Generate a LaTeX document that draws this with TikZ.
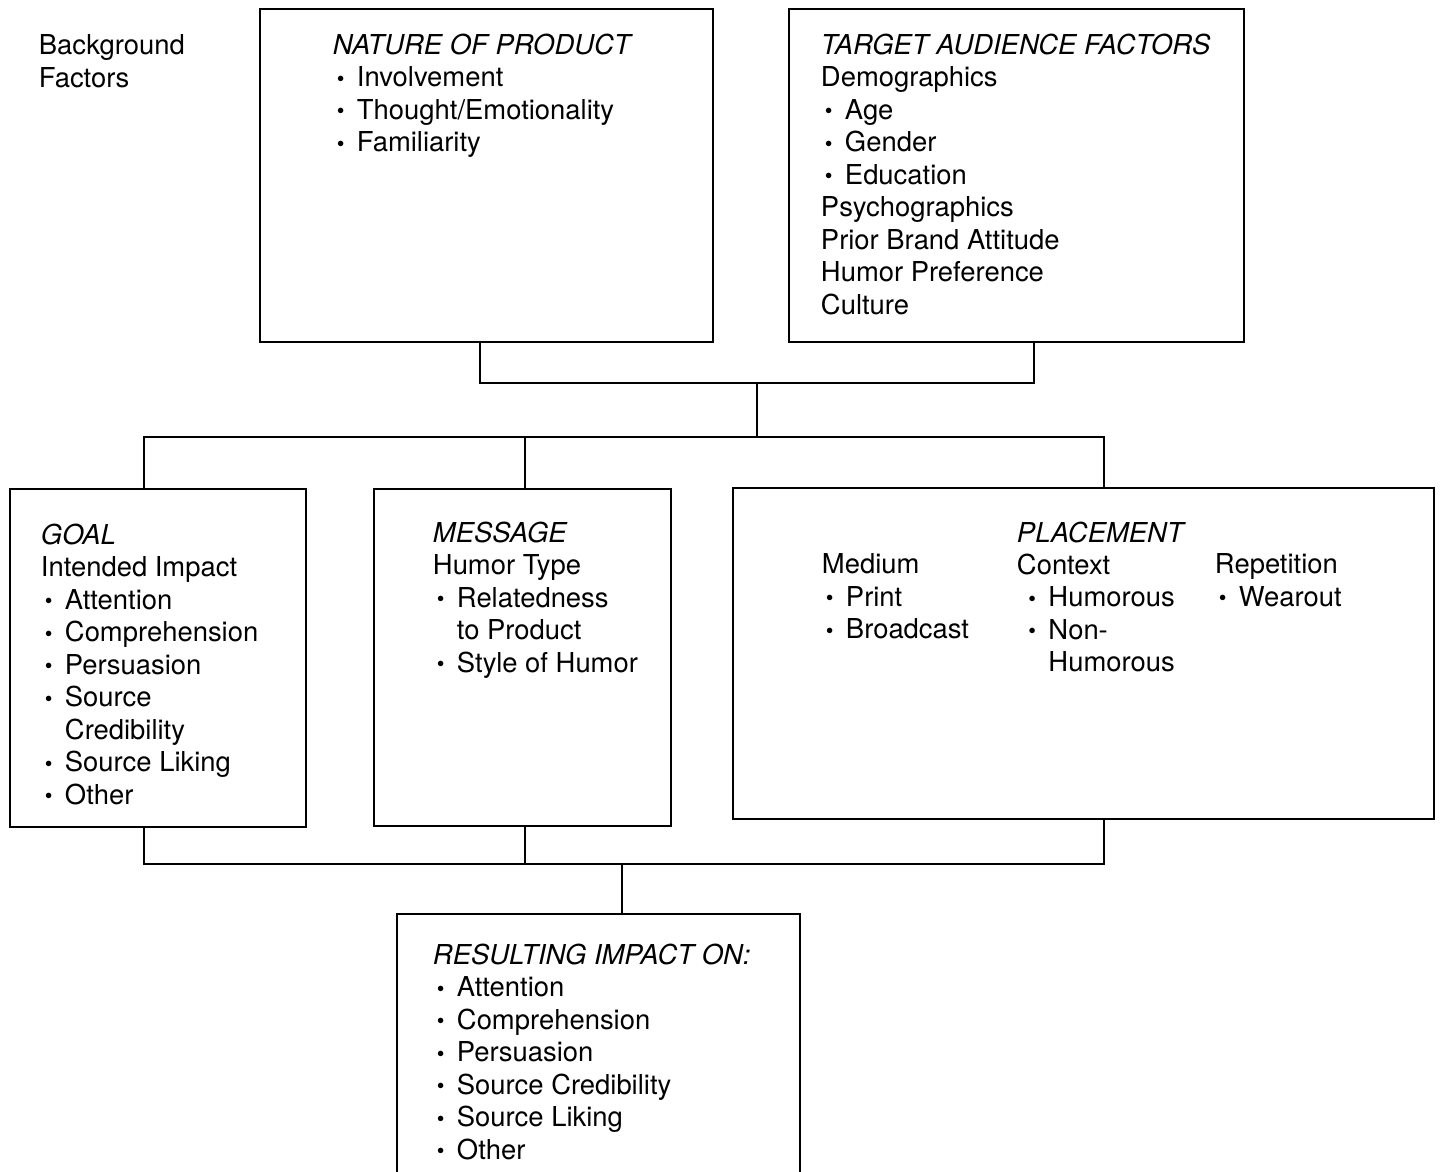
\documentclass[tikz,border=0pt]{standalone}
\usepackage{fontspec}
\setmainfont{TeX Gyre Heros}
\newcommand\itm{\hspace*{0.08cm}\makebox[0.40cm][l]{\raisebox{0.02em}{\scalebox{0.8}{\textbullet}}}}
\newcommand\ind{\hspace*{0.48cm}}
\begin{document}
\begin{tikzpicture}[x=0.02cm,y=-0.02cm,line width=1.1pt,
  box/.style={draw,inner sep=0pt,anchor=north west},
  txt/.style={anchor=north west,inner sep=0pt,align=left,
    font=\fontsize{15.6pt}{18.5pt}\selectfont}]
\clip (0,0) rectangle (1440,1171);

% boxes
\node[box,minimum width=9.06cm,minimum height=6.66cm] (nat) at (259,8) {};
\node[box,minimum width=9.10cm,minimum height=6.66cm] (tgt) at (788,8) {};
\node[box,minimum width=5.92cm,minimum height=6.76cm] (goal) at (9,488) {};
\node[box,minimum width=5.94cm,minimum height=6.74cm] (msg) at (373,488) {};
\node[box,minimum width=14.02cm,minimum height=6.62cm] (pla) at (732,487) {};
\node[box,minimum width=8.06cm,minimum height=5.60cm] (res) at (396,913) {};

% texts
\node[txt] (bg) at (38,34) {Background\\Factors};
\node[txt] (natT) at (332,33) {\textit{NATURE OF PRODUCT}\\\itm Involvement\\
  \itm Thought/Emotionality\\\itm Familiarity};
\node[txt] (tgtT) at (820,33) {\textit{TARGET AUDIENCE FACTORS}\\Demographics\\
  \itm Age\\\itm Gender\\\itm Education\\Psychographics\\Prior Brand Attitude\\
  Humor Preference\\Culture};
\node[txt] (goalT) at (40,523) {\textit{GOAL}\\Intended Impact\\\itm Attention\\
  \itm Comprehension\\\itm Persuasion\\\itm Source\\\ind Credibility\\
  \itm Source Liking\\\itm Other};
\node[txt] (msgT) at (432,521) {\textit{MESSAGE}\\Humor Type\\\itm Relatedness\\
  \ind to Product\\\itm Style of Humor};
\node[txt] (plaT) at (1016,521) {\textit{PLACEMENT}};
\node[txt] (med) at (821,553) {Medium\\\itm Print\\\itm Broadcast};
\node[txt] (ctx) at (1016,553) {Context\\\hspace*{0.15cm}\itm Humorous\\
  \hspace*{0.15cm}\itm Non-\\\hspace*{0.15cm}\ind Humorous};
\node[txt] (rep) at (1214,553) {Repetition\\\itm Wearout};
\node[txt] (resT) at (432,943) {\textit{RESULTING IMPACT ON:}\\\itm Attention\\
  \itm Comprehension\\\itm Persuasion\\\itm Source Credibility\\
  \itm Source Liking\\\itm Other};

% connectors
\coordinate (j1) at (757,383);
\coordinate (j2) at (757,437);
\coordinate (j3) at (622,864);
\draw ([xshift=-0.13cm]nat.south) |- (j1) -| ([xshift=0.35cm]tgt.south);
\draw (j1) -- (j2);
\draw ([xshift=-0.28cm]goal.north) |- (j2) -| ([xshift=0.41cm]pla.north);
\draw ([xshift=0.05cm]msg.north) -- ([xshift=0.05cm]msg.north |- j2);
\draw ([xshift=-0.28cm]goal.south) |- (j3) -| ([xshift=0.41cm]pla.south);
\draw ([xshift=0.05cm]msg.south) -- ([xshift=0.05cm]msg.south |- j3);
\draw (j3) -- (j3 |- res.north);
\end{tikzpicture}
\end{document}
